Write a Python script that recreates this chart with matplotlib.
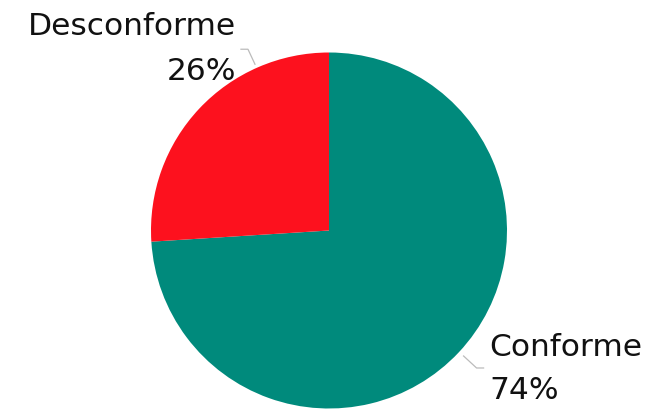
import numpy as np
import matplotlib.pyplot as plt

labels = ["Conforme", "Desconforme"]
shares = [74, 26]
colors = ["#008A7C", "#FD111E"]

plt.rcParams['font.family'] = ['DejaVu Sans']

fig = plt.figure(figsize=(6.54, 4.09), dpi=100)
ax = fig.add_axes([0, 0, 1, 1])

cx, cy, r = 329, 178.5, 178
ax.pie(shares, colors=colors, startangle=90, counterclock=False,
       center=(cx, cy), radius=r, frame=True,
       wedgeprops=dict(linewidth=0))
ax.set_xlim(0, 654)
ax.set_ylim(0, 409)
ax.axis('off')

line_kw = dict(color="#BBBBBB", lw=0.9)
txt_kw = dict(fontsize=22.5, color='#111111')

# leader for Desconforme: short diagonal off the rim then a horizontal tick
a = np.deg2rad(114)
x0, y0 = cx + (r + 4) * np.cos(a), cy + (r + 4) * np.sin(a)
ax.plot([x0, x0 - 7, x0 - 14], [y0, y0 + 15, y0 + 15], **line_kw)
ax.text(236, 374, labels[1], ha='right', va='baseline', **txt_kw)
ax.text(236, 329, f"{shares[1]}%", ha='right', va='baseline', **txt_kw)

# leader for Conforme
a = np.deg2rad(-43)
x0, y0 = cx + (r + 6) * np.cos(a), cy + (r + 6) * np.sin(a)
ax.plot([x0, x0 + 13, x0 + 20], [y0, y0 - 12, y0 - 12], **line_kw)
ax.text(489, 53, labels[0], ha='left', va='baseline', **txt_kw)
ax.text(489, 10, f"{shares[0]}%", ha='left', va='baseline', **txt_kw)

fig.savefig("out.png", dpi=100)
